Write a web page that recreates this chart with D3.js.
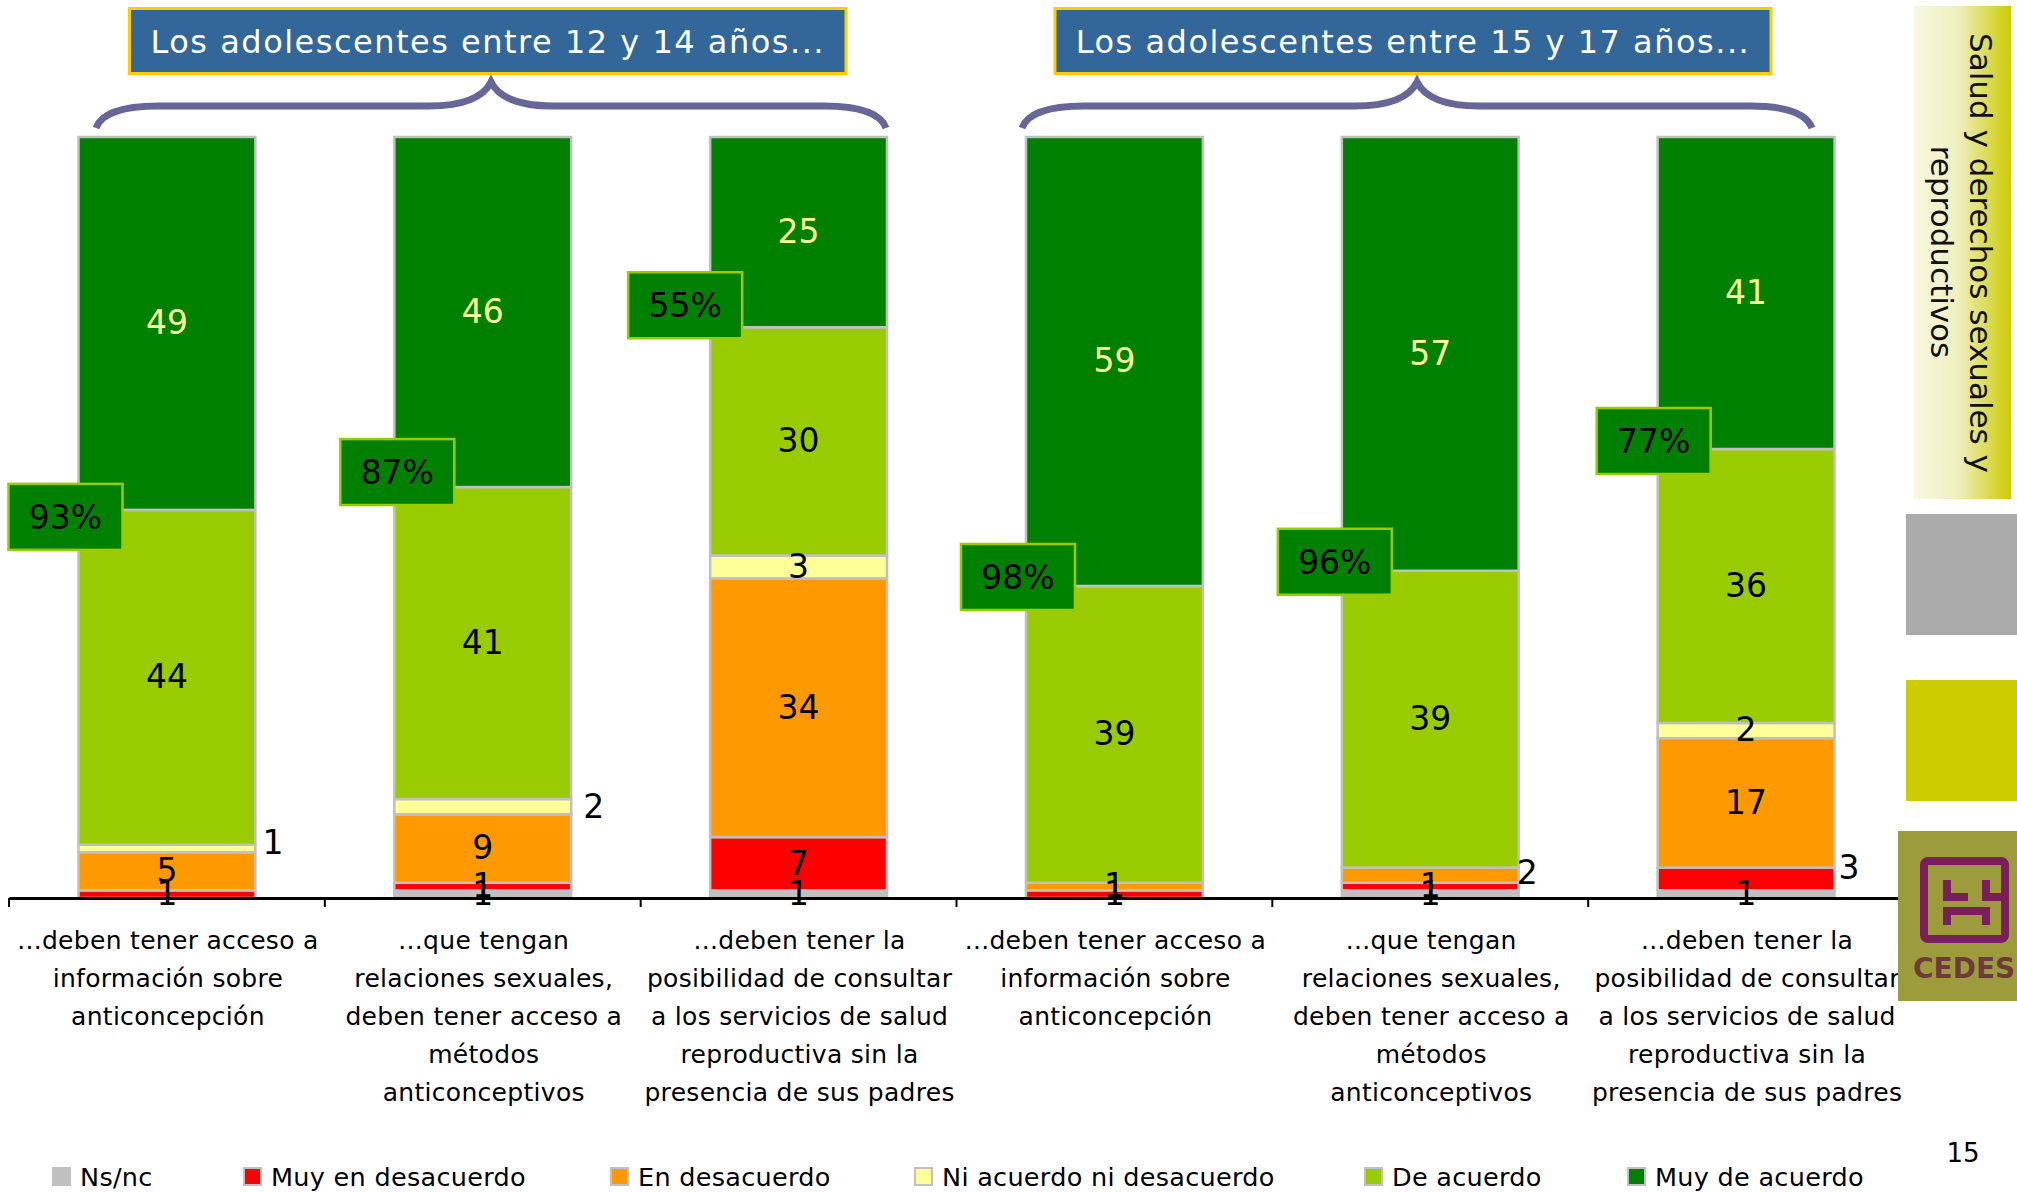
<!DOCTYPE html>
<html lang="es">
<head>
    <meta charset="UTF-8">
    <title>Salud y derechos sexuales y reproductivos</title>
    <script src="https://d3js.org/d3.v7.min.js"></script>
    <style>
        html, body { margin: 0; background: #fff; overflow: hidden; }
        svg { display: block; font-family: "DejaVu Sans", sans-serif; }
    </style>
</head>
<body>
<script>
    // chart values
    var categories = ['a1', 'a2', 'a3', 'b1', 'b2', 'b3'];
    var categoryLines = [
        ['...deben tener acceso a', 'información sobre', 'anticoncepción'],
        ['...que tengan', 'relaciones sexuales,', 'deben tener acceso a', 'métodos', 'anticonceptivos'],
        ['...deben tener la', 'posibilidad de consultar', 'a los servicios de salud', 'reproductiva sin la', 'presencia de sus padres'],
        ['...deben tener acceso a', 'información sobre', 'anticoncepción'],
        ['...que tengan', 'relaciones sexuales,', 'deben tener acceso a', 'métodos', 'anticonceptivos'],
        ['...deben tener la', 'posibilidad de consultar', 'a los servicios de salud', 'reproductiva sin la', 'presencia de sus padres']
    ];
    var seriesNames = ['Ns/nc', 'Muy en desacuerdo', 'En desacuerdo', 'Ni acuerdo ni desacuerdo', 'De acuerdo', 'Muy de acuerdo'];
    var seriesColors = ['#C0C0C0', '#FF0000', '#FF9900', '#FFFF99', '#99CC00', '#008000'];
    var nsnc = [0, 1, 1, 0, 1, 1];
    var muyEnDesacuerdo = [1, 1, 7, 1, 1, 3];
    var enDesacuerdo = [5, 9, 34, 1, 2, 17];
    var niAcuerdo = [1, 2, 3, 0, 0, 2];
    var deAcuerdo = [44, 41, 30, 39, 39, 36];
    var muyDeAcuerdo = [49, 46, 25, 59, 57, 41];
    var summaryPct = [93, 87, 55, 98, 96, 77];
    var groupTitles = ['Los adolescentes entre 12 y 14 años...', 'Los adolescentes entre 15 y 17 años...'];

    var seriesValues = [nsnc, muyEnDesacuerdo, enDesacuerdo, niAcuerdo, deAcuerdo, muyDeAcuerdo];

    var w = 2017, h = 1192;
    var plotTop = 137, plotBottom = 898;

    var svg = d3.select('body').append('svg').attr('width', w).attr('height', h);

    var xScale = d3.scaleBand().domain(categories).range([9, 1904]).paddingInner(0.44).paddingOuter(0.22);
    var yScale = d3.scaleLinear().domain([0, 100]).range([plotBottom, plotTop]);

    // stack
    var rows = categories.map(function(c, i) {
        var r = {cat: c};
        seriesNames.forEach(function(s, j) { r[s] = seriesValues[j][i]; });
        return r;
    });
    var stacked = d3.stack().keys(seriesNames)(rows);

    var bars = svg.append('g');
    stacked.forEach(function(layer, j) {
        bars.append('g').selectAll('rect')
            .data(layer.filter(function(d) { return d[1] > d[0]; }))
            .enter()
            .append('rect')
            .attr('x', function(d) { return xScale(d.data.cat); })
            .attr('y', function(d) { return yScale(d[1]); })
            .attr('width', xScale.bandwidth())
            .attr('height', function(d) { return yScale(d[0]) - yScale(d[1]); })
            .style('fill', seriesColors[j])
            .style('stroke', '#C0C0C0')
            .style('stroke-width', 2.5);
    });

    // axis, ticks between categories
    var xAxis = d3.axisBottom(xScale).tickSize(0).tickFormat('');
    var axisG = svg.append('g').attr('transform', 'translate(0,' + plotBottom + ')').call(xAxis);
    axisG.select('.domain').attr('stroke', '#000').attr('stroke-width', 3);
    axisG.selectAll('.tick').each(function(d, i) {
        var t = d3.select(this).select('text')
            .attr('y', 42)
            .attr('dy', null)
            .attr('fill', '#000')
            .style('font-size', '25px')
            .style('letter-spacing', '0.3px')
            .style('font-family', '"DejaVu Sans", sans-serif');
        categoryLines[i].forEach(function(line, k) {
            t.append('tspan').attr('x', 1).attr('y', 42 + k * 38).attr('dy', '0.35em').text(line);
        });
    });
    var step = xScale.step();
    svg.append('g').selectAll('line')
        .data(d3.range(categories.length + 1))
        .enter()
        .append('line')
        .attr('x1', function(d) { return 9 + d * step; })
        .attr('x2', function(d) { return 9 + d * step; })
        .attr('y1', plotBottom)
        .attr('y2', plotBottom + 9)
        .attr('stroke', '#000')
        .attr('stroke-width', 2);

    // value labels, some are moved out of the bar
    var labelMoves = {'0-3': [106, -5], '1-3': [111, 0], '4-2': [97, -2], '5-1': [103, -11]};
    var labels = svg.append('g');
    stacked.forEach(function(layer, j) {
        layer.forEach(function(d, i) {
            if (d[1] <= d[0]) return;
            var mv = labelMoves[i + '-' + j] || [0, 0];
            labels.append('text')
                .attr('x', xScale(d.data.cat) + xScale.bandwidth() / 2 + mv[0])
                .attr('y', yScale((d[0] + d[1]) / 2) + mv[1] - 1)
                .attr('dy', '0.36em')
                .attr('text-anchor', 'middle')
                .style('font-size', '33px')
                .style('fill', j === 5 ? '#FFFF99' : '#000')
                .text(d[1] - d[0]);
        });
    });

    // callout boxes
    var boxDx = [-70, -54, -82, -65, -64, -61];
    var boxDy = [7, -15, -22, -9, -9, -8];
    var boxW = 114, boxH = 66;
    var boxes = svg.append('g').selectAll('g')
        .data(summaryPct)
        .enter()
        .append('g')
        .attr('transform', function(d, i) {
            // box sits on the top of the light green segment
            var y = yScale(d3.sum(seriesValues.slice(0, 5), function(s) { return s[i]; }));
            return 'translate(' + (xScale(categories[i]) + boxDx[i]) + ',' + (y + boxDy[i] - boxH / 2) + ')';
        });
    boxes.append('rect')
        .attr('width', boxW).attr('height', boxH)
        .style('fill', '#008000').style('stroke', '#99CC00').style('stroke-width', 2.5);
    boxes.append('text')
        .attr('x', boxW / 2).attr('y', boxH / 2).attr('dy', '0.36em')
        .attr('text-anchor', 'middle')
        .style('font-size', '33px').style('fill', '#000')
        .text(function(d) { return d + '%'; });

    // titles and braces
    var titleX = [129.5, 1055];
    var titleW = [716.5, 716];
    groupTitles.forEach(function(t, i) {
        svg.append('rect').attr('x', titleX[i]).attr('y', 8.5)
            .attr('width', titleW[i]).attr('height', 65)
            .style('fill', '#336699').style('stroke', '#FFCC00').style('stroke-width', 3);
        svg.append('text').attr('x', titleX[i] + titleW[i] / 2).attr('y', 41).attr('dy', '0.36em')
            .attr('text-anchor', 'middle')
            .style('font-size', '32px').style('fill', '#fff').style('letter-spacing', '1.5px')
            .text(t);
    });
    function brace(x0, x1) {
        var m = (x0 + x1) / 2;
        return 'M' + x0 + ',128 C' + (x0 + 6) + ',112 ' + (x0 + 30) + ',106 ' + (x0 + 62) + ',106'
            + ' L' + (m - 62) + ',106 C' + (m - 30) + ',106 ' + (m - 8) + ',98 ' + m + ',82'
            + ' C' + (m + 8) + ',98 ' + (m + 30) + ',106 ' + (m + 62) + ',106'
            + ' L' + (x1 - 62) + ',106 C' + (x1 - 30) + ',106 ' + (x1 - 6) + ',112 ' + x1 + ',128';
    }
    [[96, 886], [1022, 1812]].forEach(function(b) {
        svg.append('path').attr('d', brace(b[0], b[1]))
            .style('fill', 'none').style('stroke', '#666699').style('stroke-width', 7);
    });

    // legend
    var legendX = [52, 243, 610, 914, 1364, 1627];
    var legend = svg.append('g').selectAll('g')
        .data(seriesNames)
        .enter()
        .append('g')
        .attr('transform', function(d, i) { return 'translate(' + legendX[i] + ',1167)'; });
    legend.append('rect')
        .attr('width', 17).attr('height', 17).attr('x', 1).attr('y', 1)
        .style('fill', function(d, i) { return seriesColors[i]; })
        .style('stroke', '#C0C0C0').style('stroke-width', 2);
    legend.append('text')
        .attr('x', 28).attr('y', 10).attr('dy', '0.36em')
        .style('font-size', '25.5px').style('letter-spacing', '0.3px').style('fill', '#000')
        .text(function(d) { return d; });

    svg.append('text').attr('x', 1963).attr('y', 1153).attr('dy', '0.36em')
        .attr('text-anchor', 'middle').style('font-size', '26px').style('fill', '#000').text('15');

    // right hand side decoration
    var grad = svg.append('defs').append('linearGradient').attr('id', 'panel');
    grad.append('stop').attr('offset', '0%').attr('stop-color', '#F8F8E0');
    grad.append('stop').attr('offset', '45%').attr('stop-color', '#EFEFBF');
    grad.append('stop').attr('offset', '100%').attr('stop-color', '#CCCC00');
    svg.append('rect').attr('x', 1914).attr('y', 6).attr('width', 97).attr('height', 493).style('fill', 'url(#panel)');
    svg.append('text').attr('transform', 'translate(1981,253) rotate(90)').attr('dy', '0.36em')
        .attr('text-anchor', 'middle').style('font-size', '31px').style('fill', '#111')
        .text('Salud y derechos sexuales y');
    svg.append('text').attr('transform', 'translate(1942,252) rotate(90)').attr('dy', '0.36em')
        .attr('text-anchor', 'middle').style('font-size', '31px').style('fill', '#111')
        .text('reproductivos');
    svg.append('rect').attr('x', 1906).attr('y', 514).attr('width', 111).attr('height', 121).style('fill', '#ABABAB');
    svg.append('rect').attr('x', 1906).attr('y', 680).attr('width', 111).attr('height', 121).style('fill', '#CCCC00');

    var logo = svg.append('g').attr('transform', 'translate(1898,831)');
    logo.append('rect').attr('width', 119).attr('height', 170).style('fill', '#9C9C3C');
    logo.append('rect').attr('x', 26).attr('y', 30).attr('width', 81).attr('height', 78).attr('rx', 4)
        .style('fill', 'none').style('stroke', '#7A1F5C').style('stroke-width', 8);
    logo.append('path')
        .attr('d', 'M49,49 V66 H70 M88,49 V66 H107 M45,80 H92 M49,80 V94 M88,80 V94')
        .style('fill', 'none').style('stroke', '#7A1F5C').style('stroke-width', 8);
    logo.append('text').attr('x', 15).attr('y', 147)
        .style('font-size', '28px').style('font-weight', 'bold').style('fill', '#6E3A3A').text('CEDES');
</script>
</body>
</html>
